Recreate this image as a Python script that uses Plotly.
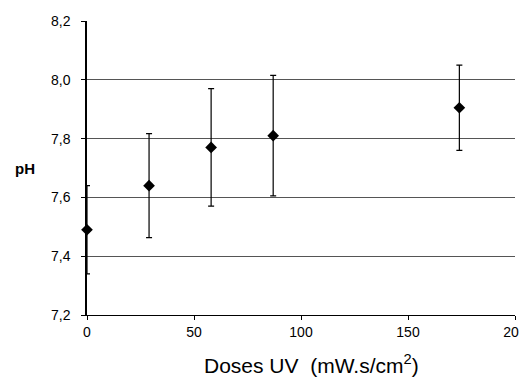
import plotly.graph_objects as go

# UV dose vs pH
doses = [0, 29, 58, 87, 174]
ph_mean = [7.49, 7.64, 7.77, 7.81, 7.905]
ph_err = [0.15, 0.177, 0.2, 0.205, 0.145]

fig = go.Figure()
fig.add_trace(go.Scatter(
    x=doses, y=ph_mean, mode='markers',
    marker=dict(symbol='diamond', size=9, color='black'),
    error_y=dict(type='data', array=ph_err, visible=True,
                 color='black', thickness=1.2, width=3),
    cliponaxis=False, showlegend=False
))

fig.update_layout(
    width=527, height=380,
    margin=dict(l=79, r=20, t=13, b=73),
    plot_bgcolor='white', paper_bgcolor='white',
    separators=', ',
    font=dict(family='Liberation Sans, Arial', size=14, color='black'),
    xaxis=dict(range=[0, 200], tickvals=[0, 50, 100, 150, 200],
               showgrid=False, zeroline=False, showline=True,
               linecolor='black', linewidth=1, ticks='outside',
               ticklen=4, tickcolor='black', automargin=False,
               ticklabeloverflow='allow'),
    yaxis=dict(range=[7.2, 8.2], tickvals=[7.2, 7.4, 7.6, 7.8, 8.0, 8.2],
               tickformat='.1f', showgrid=True, gridcolor='#555',
               gridwidth=1, zeroline=False, showline=True,
               linecolor='black', linewidth=1.5, ticks='outside',
               ticklen=4, tickcolor='black', ticklabelstandoff=8,
               automargin=False),
)

# y label, horizontal at the left
fig.add_annotation(text='<b>pH</b>', x=0, y=0.5, xref='paper', yref='paper',
                   xanchor='left', yanchor='middle', xshift=-74,
                   showarrow=False, font=dict(size=15))
# x axis title
fig.add_annotation(text='Doses UV  (mW.s/cm<sup>2</sup>)', x=105, y=0,
                   xref='x', yref='paper', xanchor='center', yanchor='bottom',
                   yshift=-64, showarrow=False, font=dict(size=21))

fig.write_html("out.html")
